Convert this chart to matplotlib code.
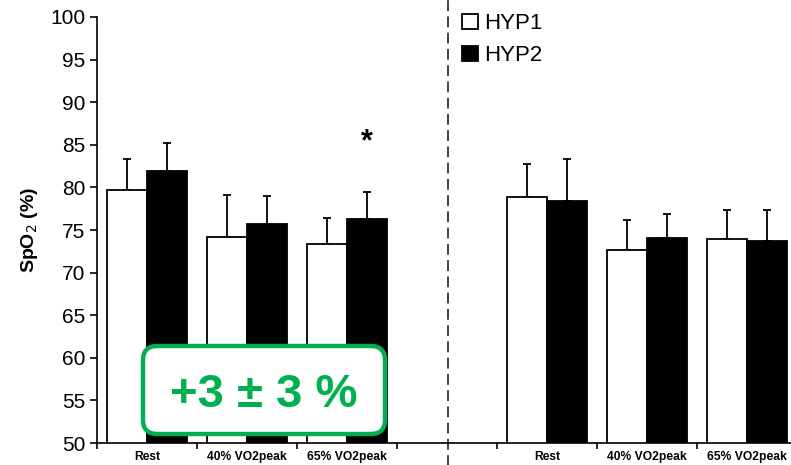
import matplotlib.pyplot as plt
from matplotlib.patches import FancyBboxPatch
from matplotlib.ticker import MultipleLocator

plt.rcParams['font.family'] = ['Liberation Sans', 'DejaVu Sans']

green = "#00b050"

# slot 3 is left empty to separate the two blocks
slots = [0, 1, 2, 4, 5, 6]
labels = ["Rest", "40% VO2peak", "65% VO2peak", "Rest", "40% VO2peak", "65% VO2peak"]
hyp1 = [79.7, 74.2, 73.4, 78.9, 72.6, 73.9]
hyp1_sd = [3.6, 4.9, 3.0, 3.8, 3.6, 3.5]
hyp2 = [81.9, 75.7, 76.3, 78.4, 74.1, 73.7]
hyp2_sd = [3.3, 3.3, 3.2, 4.9, 2.8, 3.7]


def make_spo2_chart(output_path="out.png"):
    W, H = 791, 465
    fig = plt.figure(figsize=(W / 100, H / 100), dpi=100)
    ax = fig.add_axes([97 / W, 1 - 443 / H, 700 / W, 426 / H])

    centers = [s + 0.5 for s in slots]
    x1 = [c - 0.2 for c in centers]
    x2 = [c + 0.2 for c in centers]
    err_kw = dict(ecolor="black", elinewidth=1.3, capsize=3, capthick=1.3)
    ax.bar(x1, hyp1, width=0.4, bottom=0, color="white", edgecolor="black",
           linewidth=1.3, label="HYP1", zorder=2)
    ax.bar(x2, hyp2, width=0.4, bottom=0, color="black", edgecolor="black",
           linewidth=1.3, label="HYP2", zorder=2)
    ax.errorbar(x1, hyp1, yerr=[[0] * len(hyp1), hyp1_sd], fmt="none", zorder=1, **err_kw)
    ax.errorbar(x2, hyp2, yerr=[[0] * len(hyp2), hyp2_sd], fmt="none", zorder=1, **err_kw)

    ax.set_xlim(0, 7)
    ax.set_ylim(50, 100)
    ax.yaxis.set_major_locator(MultipleLocator(5))
    ax.tick_params(axis="y", labelsize=15, length=5, width=1.2, direction="out")

    ax.set_xticks(range(0, 7))
    ax.set_xticklabels([])
    ax.tick_params(axis="x", which="major", length=4, width=1.2, direction="out")
    ax.set_xticks(centers, minor=True)
    ax.set_xticklabels(labels, minor=True, fontsize=8.7, fontweight="bold")
    ax.tick_params(axis="x", which="minor", length=0, pad=6)

    for spine in ["top", "right"]:
        ax.spines[spine].set_visible(False)
    for spine in ["left", "bottom"]:
        ax.spines[spine].set_linewidth(1.2)

    ax.set_ylabel("SpO$_2$ (%)", fontsize=14, fontweight="bold", labelpad=7)

    # separator between the two blocks
    ax.axvline(3.51, ymin=-0.06, ymax=1.05, color="#333333", linewidth=1.3,
               linestyle=(0, (6, 3)), clip_on=False)

    ax.text(2.7, 85.3, "*", ha="center", va="center", fontsize=22, fontweight="bold")

    ax.legend(loc="upper left", bbox_to_anchor=(0.509, 1.03), frameon=False,
              fontsize=16, handlelength=0.7, handleheight=0.7, handletextpad=0.3,
              labelspacing=0.5, borderaxespad=0)

    # rounded call-out box with the mean difference
    box = FancyBboxPatch((143 / W, 1 - 434 / H), 242 / W, 88 / H,
                         boxstyle="round,pad=0,rounding_size=0.018",
                         mutation_aspect=W / H, transform=fig.transFigure,
                         facecolor="white", edgecolor=green, linewidth=3.2, zorder=5)
    fig.add_artist(box)
    fig.text(264 / W, 1 - 407 / H, "+3 ± 3 %", ha="center", va="baseline",
             fontsize=34, fontweight="bold", color=green, zorder=6)

    fig.savefig(output_path, dpi=100)


if __name__ == "__main__":
    make_spo2_chart()
